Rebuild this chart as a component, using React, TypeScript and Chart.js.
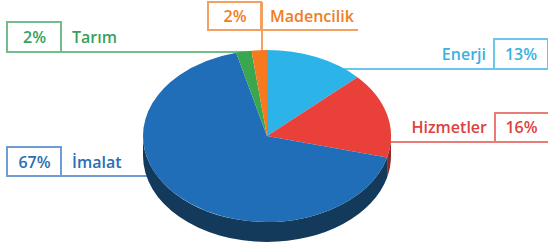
import React, { useEffect, useRef } from "react";
import { Chart, registerables } from "chart.js";

Chart.register(...registerables);

const categories = ["Enerji", "Hizmetler", "İmalat", "Tarım", "Madencilik"];
const shares = [13, 16, 67, 2, 2];
const percentLabels = ["13%", "16%", "67%", "2%", "2%"];
const sliceColors = ["#2cb4e8", "#e9413a", "#1f6eb7", "#3aa64d", "#f7791f"];
const sideColors = ["#176f93", "#8f2923", "#143a5b", "#22683a", "#9b4913"];
const textColors = ["#3ab1de", "#e0413d", "#2a6db5", "#3a9f5c", "#f07d22"];
const lineColors = ["#6cc6ea", "#e87c77", "#6e9ed2", "#72bd8a", "#f3a163"];

const FLAT = 86 / 124;
const TARGET_CY = 136;
const DEPTH = 20;

const tiltPlugin = {
  id: "tilt",
  beforeDatasetsDraw(chart: any) {
    const meta = chart.getDatasetMeta(0);
    const first = meta.data[0];
    chart.$tiltSaved = false;
    if (!first) return;
    const { x: cx, y: cy, outerRadius: r } = first.getProps(["x", "y", "outerRadius"], true);
    const ctx = chart.ctx as CanvasRenderingContext2D;
    const rx = r;
    const ry = r * FLAT;
    const TAU = Math.PI * 2;
    meta.data.forEach((arc: any, i: number) => {
      const { startAngle, endAngle } = arc.getProps(["startAngle", "endAngle"], true);
      for (let k = -1; k <= 1; k++) {
        const a0 = Math.max(startAngle + k * TAU, 0);
        const a1 = Math.min(endAngle + k * TAU, Math.PI);
        if (a1 > a0) {
          ctx.save();
          ctx.beginPath();
          ctx.ellipse(cx, TARGET_CY, rx, ry, 0, a0, a1, false);
          ctx.ellipse(cx, TARGET_CY + DEPTH, rx, ry, 0, a1, a0, true);
          ctx.closePath();
          ctx.fillStyle = sideColors[i];
          ctx.fill();
          ctx.restore();
        }
      }
    });
    ctx.save();
    ctx.translate(cx, TARGET_CY);
    ctx.scale(1, FLAT);
    ctx.translate(-cx, -cy);
    chart.$tiltSaved = true;
  },
  afterDatasetsDraw(chart: any) {
    if (chart.$tiltSaved) {
      chart.ctx.restore();
      chart.$tiltSaved = false;
    }
  },
};

type Hline = { x1: number; x2: number; y: number; color: string };
const HLine = ({ x1, x2, y, color }: Hline) => (
  <div
    style={{
      position: "absolute",
      left: x1,
      top: y - 1,
      width: x2 - x1,
      height: 0,
      borderTop: `2px solid ${color}`,
    }}
  />
);

const VLine = ({ x, y1, y2, color }: { x: number; y1: number; y2: number; color: string }) => (
  <div
    style={{
      position: "absolute",
      left: x - 1,
      top: y1,
      width: 0,
      height: y2 - y1,
      borderLeft: `2px solid ${color}`,
    }}
  />
);

const font: React.CSSProperties = {
  fontFamily: "'Open Sans', Lato, sans-serif",
  fontWeight: 600,
  fontSize: 16,
  lineHeight: "16px",
  whiteSpace: "nowrap",
  position: "absolute",
};

const Box = ({ left, top, width, height, color }: any) => (
  <div
    style={{
      position: "absolute",
      left: left - 1,
      top: top - 1,
      width: width,
      height: height,
      border: `2px solid ${color}`,
      borderBottom: "none",
      boxSizing: "border-box",
    }}
  />
);

const CenterText = ({ left, width, cy, color, text }: any) => (
  <div style={{ ...font, left, width, top: cy - 8, textAlign: "center", color }}>{text}</div>
);

const LeftText = ({ left, cy, color, text }: any) => (
  <div style={{ ...font, left, top: cy - 8, color }}>{text}</div>
);

const RightText = ({ right, cy, color, text }: any) => (
  <div style={{ ...font, right: 548 - right, top: cy - 8, color, textAlign: "right" }}>{text}</div>
);

export default function App() {
  const canvasRef = useRef<HTMLCanvasElement | null>(null);

  useEffect(() => {
    const canvas = canvasRef.current;
    if (!canvas) return;
    const chart = new Chart(canvas, {
      type: "pie",
      data: {
        labels: categories,
        datasets: [
          {
            data: shares,
            backgroundColor: sliceColors,
            borderWidth: 0,
            clip: false as any,
          },
        ],
      },
      options: {
        responsive: false,
        animation: false,
        devicePixelRatio: 1,
        rotation: 0,
        layout: { padding: { left: 0, right: 14, top: 0, bottom: 0 } },
        plugins: {
          legend: { display: false },
          tooltip: { enabled: false },
        },
        events: [],
      },
      plugins: [tiltPlugin as any],
    });
    return () => chart.destroy();
  }, []);

  // index lookup: 0 Enerji, 1 Hizmetler, 2 İmalat, 3 Tarım, 4 Madencilik
  return (
    <div
      style={{
        position: "fixed",
        left: 0,
        top: 0,
        width: 548,
        height: 248,
        overflow: "hidden",
        background: "#ffffff",
      }}
    >
      <div style={{ position: "absolute", inset: 0, zIndex: 0 }}>
        {/* Tarım */}
        <Box left={7} top={22} width={56} height={30} color={lineColors[3]} />
        <HLine x1={6} x2={262} y={52} color={lineColors[3]} />
        <CenterText left={7} width={55} cy={37} color={textColors[3]} text={percentLabels[3]} />
        <LeftText left={72} cy={37} color={textColors[3]} text={categories[3]} />

        {/* Madencilik */}
        <Box left={208} top={2} width={55} height={28} color={lineColors[4]} />
        <VLine x={262} y1={2} y2={60} color={lineColors[4]} />
        <HLine x1={207} x2={358} y={30} color={lineColors[4]} />
        <CenterText left={208} width={54} cy={16} color={textColors[4]} text={percentLabels[4]} />
        <LeftText left={270} cy={16} color={textColors[4]} text={categories[4]} />

        {/* Enerji */}
        <Box left={494} top={39} width={56} height={30} color={lineColors[0]} />
        <HLine x1={320} x2={548} y={69} color={lineColors[0]} />
        <CenterText left={494} width={54} cy={54} color={textColors[0]} text={percentLabels[0]} />
        <RightText right={486} cy={54} color={textColors[0]} text={categories[0]} />

        {/* Hizmetler */}
        <Box left={495} top={113} width={56} height={29} color={lineColors[1]} />
        <HLine x1={370} x2={548} y={142} color={lineColors[1]} />
        <CenterText left={495} width={53} cy={127} color={textColors[1]} text={percentLabels[1]} />
        <RightText right={487} cy={127} color={textColors[1]} text={categories[1]} />

        {/* İmalat */}
        <Box left={7} top={147} width={56} height={29} color={lineColors[2]} />
        <HLine x1={6} x2={200} y={176} color={lineColors[2]} />
        <CenterText left={7} width={55} cy={162} color={textColors[2]} text={percentLabels[2]} />
        <LeftText left={72} cy={162} color={textColors[2]} text={categories[2]} />
      </div>
      <canvas
        ref={canvasRef}
        width={548}
        height={248}
        style={{ position: "absolute", left: 0, top: 0, width: 548, height: 248, zIndex: 1 }}
      />
    </div>
  );
}
